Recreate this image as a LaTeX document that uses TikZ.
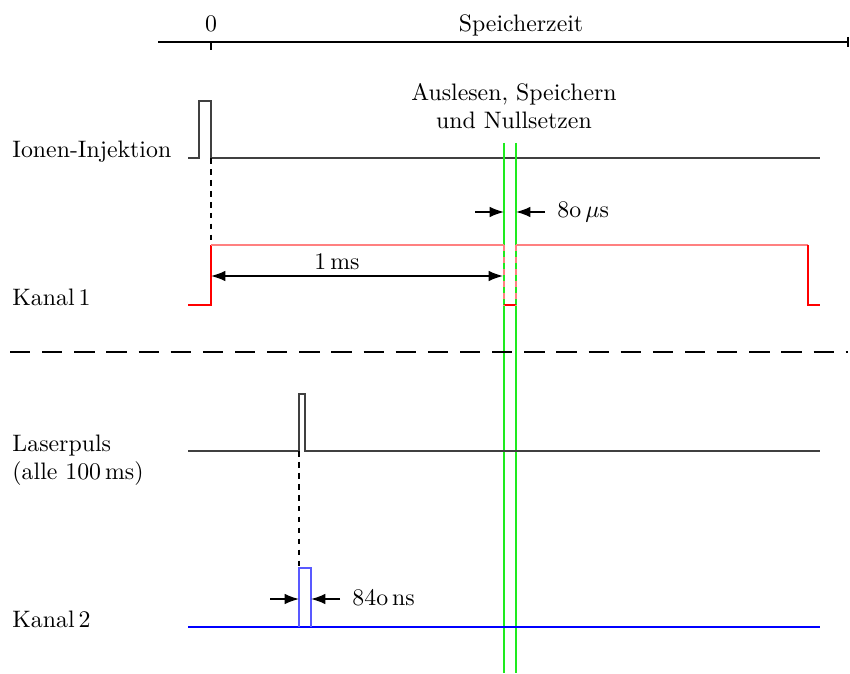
\documentclass[tikz,border=0pt]{standalone}
\usetikzlibrary{arrows.meta}
\definecolor{mygreen}{RGB}{30,235,30}
\begin{document}
\begin{tikzpicture}[x=0.42pt,y=-0.42pt,
  sig/.style={line width=0.55pt, black!75},
  dimarrow/.style={line width=0.6pt, -{Latex[length=6pt,width=4.4pt]}},
  lbl/.style={anchor=base west, inner sep=0pt},
  ctr/.style={anchor=base, inner sep=0pt},
  grn/.style={line width=0.8pt, mygreen},
  shortdash/.style={line width=0.45pt, dash pattern=on 2.4pt off 2.2pt}]
\useasboundingbox (0,0) rectangle (850,673);
% time axis
\coordinate (axL) at (158,42);
\coordinate (axR) at (848,42);
\coordinate (t0) at (211,42);
\draw[line width=0.8pt] (axL) -- (axR);
\draw[line width=0.8pt] ([yshift=2.2pt]axR) -- ([yshift=-2.2pt]axR);
\draw[line width=0.8pt] (t0) -- ++(0,8);
\node[ctr] (zero) at (211,32) {0};
\node[ctr] (sz) at (521,32) {Speicherzeit};
% labels
\node[lbl] (l1) at (12,158) {Ionen-Injektion};
\node[lbl] (l2) at (12,305) {Kanal\,1};
\node[lbl] (l3) at (12,451) {Laserpuls};
\node[lbl] (l3b) at (12,479) {(alle 100\,ms)};
\node[lbl] (l4) at (12,627) {Kanal\,2};
\node[ctr] (a1) at (514,101) {Auslesen, Speichern};
\node[ctr] (a2) at (514,129) {und Nullsetzen};
% Ionen-Injektion
\coordinate (i0) at (188,158);
\coordinate (i1) at (199,101);
\coordinate (i2) at (211,158);
\coordinate (i3) at (820,158);
\draw[sig] (i0) -| (i1) -| (i2) -- (i3);
\coordinate (k1a) at (211,245);
\draw[shortdash] (i2) -- (k1a);
% green lines
\coordinate (g1t) at (504,143);
\coordinate (g1b) at (504,673);
\coordinate (g2t) at (516,143);
\coordinate (g2b) at (516,673);
\draw[grn] (g1t) -- (g1b);
\draw[grn] (g2t) -- (g2b);
% Kanal 1
\coordinate (k0) at (188,305);
\coordinate (k1) at (211,305);
\coordinate (k2) at (504,245);
\coordinate (k3) at (516,245);
\coordinate (k4) at (808,245);
\coordinate (k5) at (808,305);
\coordinate (k6) at (820,305);
\coordinate (k2b) at (504,305);
\coordinate (k3b) at (516,305);
\draw[red, line width=0.55pt] (k0) -- (k1) -- (k1a);
\draw[red!50, line width=0.75pt] (k1a) -- (k2);
\draw[red!50, line width=0.75pt] (k3) -- (k4);
\draw[red, line width=0.55pt] (k4) -- (k5) -- (k6);
\draw[red, line width=0.55pt] (k2b) -- (k3b);
\draw[red!50, line width=0.75pt, dash pattern=on 2.5pt off 2.5pt] (k2) -- (k2b);
\draw[red!50, line width=0.75pt, dash pattern=on 2.5pt off 2.5pt] (k3) -- (k3b);
% 1 ms
\coordinate (m1) at (211,276);
\coordinate (m2) at (503,276);
\draw[dimarrow, {Latex[length=6pt,width=4.4pt]}-{Latex[length=6pt,width=4.4pt]}] (m1) -- (m2);
\node[ctr] (ms) at (337,270) {1\,ms};
% 80 us
\coordinate (u1) at (475,212);
\coordinate (u1e) at (504,212);
\coordinate (u2) at (545,212);
\coordinate (u2e) at (516,212);
\draw[dimarrow] (u1) -- (u1e);
\draw[dimarrow] (u2) -- (u2e);
\node[lbl] (us) at (557,218) {8o\,$\mu$s};
% separator
\coordinate (s1) at (10,352);
\coordinate (s2) at (848,352);
\draw[line width=0.5pt, dash pattern=on 8.5pt off 5pt] (s1) -- (s2);
% Laserpuls
\coordinate (p0) at (188,451);
\coordinate (p1) at (299,394);
\coordinate (p2) at (305,451);
\coordinate (p3) at (820,451);
\draw[sig] (p0) -| (p1) -| (p2) -- (p3);
\coordinate (q0) at (299,451);
\coordinate (q1) at (299,568);
\draw[shortdash] (q0) -- (q1);
% Kanal 2
\coordinate (c0) at (188,627);
\coordinate (c1) at (820,627);
\coordinate (c2) at (299,627);
\coordinate (c3) at (311,568);
\coordinate (c4) at (311,627);
\draw[blue, line width=0.6pt] (c0) -- (c1);
\draw[blue!65, line width=0.6pt] (c2) |- (c3) -- (c4);
\coordinate (n1) at (270,599);
\coordinate (n1e) at (299,599);
\coordinate (n2) at (340,599);
\coordinate (n2e) at (311,599);
\draw[dimarrow] (n1) -- (n1e);
\draw[dimarrow] (n2) -- (n2e);
\node[lbl] (ns) at (352,605) {84o\,ns};
\end{tikzpicture}
\end{document}
